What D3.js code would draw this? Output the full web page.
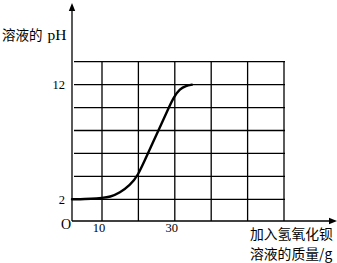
<!DOCTYPE html>
<html><head><meta charset="utf-8">
<script src="https://cdn.jsdelivr.net/npm/d3@7"></script>
<style>html,body{margin:0;padding:0;background:#fff;}svg{display:block;}</style>
</head><body>
<svg id="c" width="337" height="263"></svg>
<script>
// data
const massValues = [0, 7, 10, 12.2, 14.9, 17.7, 19.8, 22.6, 25.8, 28.5, 29.7, 31.4, 33.1, 34.7];
const phValues   = [2, 2.05, 2.12, 2.2, 2.55, 3.25, 4.0, 6.0, 8.2, 10.1, 10.9, 11.65, 11.9, 12.0];
const xGrid = [10, 20, 30, 40, 50, 60];
const yGrid = [2, 4, 6, 8, 10, 12, 14];
const xTickLabels = [10, 30];
const yTickLabels = [2, 12];
const yTitle = "溶液的 pH";
const xTitle = ["加入氢氧化钡", "溶液的质量/g"];

const svg = d3.select("#c");
const x = d3.scaleLinear().domain([0, 10, 60]).range([72, 102, 284]);
const y = d3.scaleLinear().domain([0, 2, 14]).range([221, 199.3, 61.7]);

const g = svg.append("g");
// horizontal grid
g.selectAll("line.h").data(yGrid).join("line")
  .attr("x1", x(0) + 2).attr("x2", x(60) + 1)
  .attr("y1", d => y(d)).attr("y2", d => y(d))
  .attr("stroke", "#000").attr("stroke-width", 1.3);
// vertical grid
g.selectAll("line.v").data(xGrid).join("line")
  .attr("x1", d => x(d)).attr("x2", d => x(d))
  .attr("y1", y(14)).attr("y2", y(0))
  .attr("stroke", "#000").attr("stroke-width", 1.3);

// axes
g.append("line").attr("x1", x(0)).attr("x2", 331).attr("y1", y(0)).attr("y2", y(0))
  .attr("stroke", "#000").attr("stroke-width", 1.3);
g.append("line").attr("x1", x(0)).attr("x2", x(0)).attr("y1", y(0)).attr("y2", 9)
  .attr("stroke", "#000").attr("stroke-width", 1.3);
g.append("path").attr("d", `M${x(0)},3 L${x(0)-3.2},11 L${x(0)+3.2},11 Z`).attr("fill", "#000");
g.append("path").attr("d", `M337,${y(0)} L329,${y(0)-3.2} L329,${y(0)+3.2} Z`).attr("fill", "#000");

// curve
const pts = massValues.map((m, i) => [m, phValues[i]]);
g.append("path").datum(pts)
  .attr("d", d3.line().x(d => x(d[0])).y(d => y(d[1])).curve(d3.curveBasis))
  .attr("fill", "none").attr("stroke", "#000").attr("stroke-width", 2.4).attr("stroke-linecap", "round");

// tick labels
const serif = "'Liberation Serif','DejaVu Serif',serif";
const cjk = "'Noto Sans CJK SC','Noto Sans',sans-serif";
g.selectAll("text.yt").data(yTickLabels).join("text")
  .attr("x", 65).attr("y", d => y(d)).attr("dy", "0.35em")
  .attr("text-anchor", "end").attr("font-family", serif).attr("font-size", 12.5)
  .text(d => d);
g.selectAll("text.xt").data(xTickLabels).join("text")
  .attr("x", d => x(d) - 3).attr("y", 232)
  .attr("text-anchor", "middle").attr("font-family", serif).attr("font-size", 12.5)
  .text(d => d);
g.append("text").attr("x", 66).attr("y", 229).attr("text-anchor", "middle")
  .attr("font-family", serif).attr("font-size", 14).text("O");

// titles
const yt = g.append("text").attr("x", 2).attr("y", 40);
yt.append("tspan").attr("font-family", cjk).attr("font-size", 13.5).text(yTitle.split(" ")[0]);
yt.append("tspan").attr("font-family", serif).attr("font-size", 15.5).attr("dx", 5).text(yTitle.split(" ")[1]);
g.selectAll("text.xtitle").data(xTitle).join("text")
  .attr("x", 250).attr("y", (d, i) => 239 + i * 20)
  .attr("font-family", cjk).attr("font-size", 13.8)
  .text(d => d);
</script>
</body></html>
